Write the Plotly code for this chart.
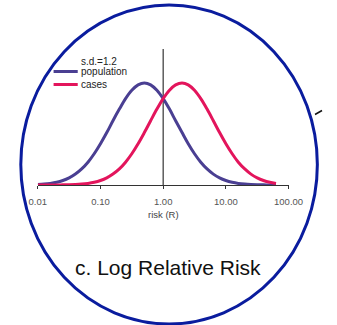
import plotly.graph_objects as go

# ---- data ----
risk = [0.01, 0.0126, 0.0158, 0.02, 0.0251, 0.0316, 0.0398, 0.0501, 0.0631, 0.0794,
        0.1, 0.126, 0.158, 0.2, 0.251, 0.316, 0.398, 0.501, 0.631, 0.794,
        1.0, 1.26, 1.58, 2.0, 2.51, 3.16, 3.98, 5.01, 6.31, 7.94,
        10.0, 12.6, 15.8, 20.0, 25.1, 31.6, 39.8, 50.1, 63.1]
population = [0.0048, 0.0088, 0.0156, 0.0267, 0.0439, 0.0697, 0.1068, 0.1574, 0.2236, 0.3063,
              0.4042, 0.5138, 0.6298, 0.7438, 0.8467, 0.9287, 0.9817, 1.0, 0.9817, 0.9287,
              0.8467, 0.7438, 0.6298, 0.5138, 0.4042, 0.3063, 0.2236, 0.1574, 0.1068, 0.0697,
              0.0439, 0.0267, 0.0156, 0.0088, 0.0048, 0.0025, 0.0013, 0.0006, 0.0003]
cases = [0.0001, 0.0001, 0.0003, 0.0006, 0.0013, 0.0025, 0.0048, 0.0088, 0.0156, 0.0267,
         0.0439, 0.0697, 0.1068, 0.1574, 0.2236, 0.3063, 0.4042, 0.5138, 0.6298, 0.7438,
         0.8467, 0.9287, 0.9817, 1.0, 0.9817, 0.9287, 0.8467, 0.7438, 0.6298, 0.5138,
         0.4042, 0.3063, 0.2236, 0.1574, 0.1068, 0.0697, 0.0439, 0.0267, 0.0156]
tick_vals = [0.01, 0.1, 1, 10, 100]
tick_text = ["0.01", "0.10", "1.00", "10.00", "100.00"]
ref_line_x = [1, 1]
ref_line_y = [0, 1.333]

W, H = 337, 325
FONT = "Liberation Sans, Arial, sans-serif"
POP_COLOR = "#4a3f92"
CASE_COLOR = "#e3155c"
CIRCLE_COLOR = "#0a1c9e"


def px(x):
    return x / W


def py(y):
    return 1 - y / H


fig = go.Figure()
fig.add_trace(go.Scatter(x=ref_line_x, y=ref_line_y, mode="lines",
                         line=dict(color="#444444", width=1.3), hoverinfo="skip"))
fig.add_trace(go.Scatter(x=risk, y=population, mode="lines", name="population",
                         line=dict(color=POP_COLOR, width=3, shape="spline")))
fig.add_trace(go.Scatter(x=risk, y=cases, mode="lines", name="cases",
                         line=dict(color=CASE_COLOR, width=3, shape="spline")))

fig.update_layout(
    width=W, height=H, margin=dict(l=0, r=0, t=0, b=0),
    paper_bgcolor="white", plot_bgcolor="rgba(0,0,0,0)",
    showlegend=False,
    font=dict(family=FONT),
    xaxis=dict(type="log", range=[-2, 2], domain=[px(31), px(301)],
               tickvals=tick_vals, ticktext=tick_text,
               tickfont=dict(size=9.5, color="#555555", family=FONT),
               ticks="outside", ticklen=3, tickcolor="#333333",
               showline=True, linecolor="#333333", linewidth=1.2,
               showgrid=False, zeroline=False, ticklabelstandoff=4),
    yaxis=dict(range=[0, 1.333], domain=[py(185), py(49)], visible=False,
               showgrid=False, zeroline=False),
)

shapes = [
    dict(type="circle", xref="paper", yref="paper",
         x0=px(12.7), x1=px(332), y0=py(324), y1=py(5),
         line=dict(color=CIRCLE_COLOR, width=3)),
    dict(type="line", xref="paper", yref="paper",
         x0=px(48), x1=px(74), y0=py(71.5), y1=py(71.5),
         line=dict(color=POP_COLOR, width=3)),
    dict(type="line", xref="paper", yref="paper",
         x0=px(48), x1=px(74), y0=py(84.5), y1=py(84.5),
         line=dict(color=CASE_COLOR, width=3)),
    dict(type="line", xref="paper", yref="paper",
         x0=px(329.5), x1=px(337), y0=py(114.5), y1=py(110.5),
         line=dict(color="#111111", width=1.5)),
]
fig.update_layout(shapes=shapes)

annos = [
    dict(text="s.d.=1.2", x=px(75.5), y=py(61), xanchor="left", yanchor="middle",
         font=dict(size=10, color="#222222")),
    dict(text="population", x=px(75.5), y=py(71.5), xanchor="left", yanchor="middle",
         font=dict(size=10, color="#222222")),
    dict(text="cases", x=px(75.5), y=py(84.5), xanchor="left", yanchor="middle",
         font=dict(size=10, color="#222222")),
    dict(text="risk (R)", x=px(166), y=py(214), xanchor="center", yanchor="middle",
         font=dict(size=9.5, color="#444444")),
    dict(text="c. Log Relative Risk", x=px(171), y=py(267), xanchor="center", yanchor="middle",
         font=dict(size=21, color="#111111")),
]
for a in annos:
    a.update(xref="paper", yref="paper", showarrow=False)
fig.update_layout(annotations=annos)

fig.write_html("out.html")
